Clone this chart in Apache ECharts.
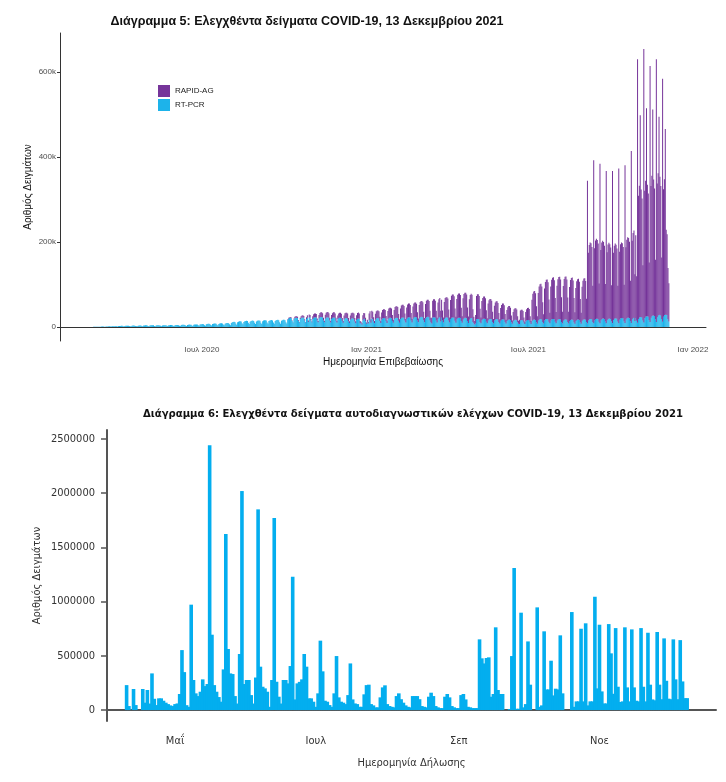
<!DOCTYPE html>
<html><head><meta charset="utf-8">
<script src="https://cdn.jsdelivr.net/npm/echarts@6/dist/echarts.min.js"></script>
<style>html,body{margin:0;padding:0;background:#fff}#c{width:726px;height:782px}</style>
</head><body><div id="c"></div>
<script>
// ===== Διάγραμμα 5 : daily samples (thousands) =====
const topAxisStart = '2020-01-25';
const topAxisEnd = '2022-01-15';
const pcrStart = '2020-03-02';
const rtPcr = [
0.3,0.3,0.4,0.5,0.5,0.4,0.3, 0.6,0.8,0.9,1,1.1,0.8,0.6, 1.2,1.4,1.3,1.5,1.6,1.1,0.9, 1.6,1.8,1.9,2,2.1,1.5,1.2,
2.2,2.5,2.6,2.8,2.7,2,1.5, 2.6,2.9,3,3.1,2.8,2.1,1.6, 2,2.8,3.2,3.3,3,2.2,1.6, 1.8,3,3.4,3.5,3.3,2.4,1.8,
3.2,3.6,3.8,3.9,3.5,2.5,1.9, 3.4,3.8,4,4.1,3.8,2.6,2, 3.5,3.9,4.2,4.1,3.7,2.7,2, 3.6,4,4.1,4.3,3.9,2.8,2.1,
3.8,4.2,4.4,4.5,4.1,3,2.2, 4,4.5,4.7,4.6,4.3,3.1,2.3, 4.5,5,5.2,5.3,4.9,3.4,2.5, 4.8,5.4,5.6,5.5,5.1,3.6,2.6,
5.2,5.8,6,6.1,5.6,3.9,2.8, 5.6,6.3,6.6,6.8,6.2,4.3,3, 6.2,7,7.4,7.6,7,4.8,3.3, 6.8,7.6,8,8.2,7.5,5.2,3.6,
7.2,8.1,8.6,8.8,8.1,5.6,3.9, 7.8,8.8,9.3,9.5,8.9,6.2,4.3, 9.5,11,11.8,12.2,11.5,8,5.5, 11,12.5,13.2,13.5,12.8,9,6.2,
12,13.5,14.2,14.6,13.8,9.8,6.8, 12.5,14,14.8,15,14.2,10,7, 13,14.5,15,15.4,14.6,10.2,7.2, 13.5,15,15.6,15.9,15,10.5,7.4,
14,15.5,16,16.4,15.5,10.8,7.6, 14.2,15.8,16.4,16.8,15.8,11,7.8, 14.5,16,16.8,17,16,11.2,8, 17,20,21,21.5,20.5,14,10,
18,21,22,22,21,14.5,10.5, 18.5,21.5,22.5,22.5,21.5,15,10.5, 19,22,12,23,22,15,11, 19,22,23,23,22,15,11,
20,23,23.5,23.5,22.5,15.5,11, 19.5,22.5,23,23,21.5,15,10.5, 19,21.5,22.5,22.5,21,14.5,10.5, 18,21,21.5,21.5,20,14,10,
17.5,20.5,21,21,19.5,13.5,9.5, 17,20,20.5,20.5,19,13,9, 16.5,19.5,20,19.5,9,8.5,6, 15.5,19,19.5,13.5,7.5,11,8,
16,19,10,20,19,13,9, 17,20,21,21,20,14,9.5, 17,20,21,21,20,14,9.5, 17.5,20.5,21.5,21.5,20.5,14,10,
18,21,22,22,21,14.5,10, 18.5,21.5,22.5,22.5,21.5,15,10.5, 19,22,23,23,22,15,10.5, 19.5,22.5,23.5,23.5,22.5,15.5,11,
20,23,24,24,23,16,11, 20,23,24,24,23,16,11, 8,22,23,23,22,15,10.5, 19.5,22.5,23.5,13,22,15,10.5,
19,22,23,23,22,15,10.5, 18.5,21.5,22.5,22.5,21.5,14.5,10, 18,21,22,22,21,14,10, 17.5,20.5,21.5,21.5,20.5,14,9.5,
17,20,21,21,12,9,6, 8,18,19,19,18,12,8.5, 16,18.5,19.5,19.5,18.5,12.5,8.5, 15.5,18,19,19,18,12,8,
15,17.5,18.5,18.5,17.5,12,8, 14.5,17,18,18,17,11.5,8, 14,16.5,17.5,17.5,16.5,11,7.5, 13.5,16,17,17,16,11,7.5,
7,15.5,16.5,16.5,15.5,10.5,7, 13,15.5,16.5,16.5,15.5,10.5,7, 14,16.5,17.5,17.5,16.5,11,7.5, 15,17.5,18.5,18.5,17.5,12,8,
15.5,18,19,19,18,12.5,8.5, 15.5,18,19,19,18,12.5,8.5, 15,17.5,18.5,18.5,17.5,12,8, 14.5,17,18,18,17,11.5,8,
14,16.5,17.5,17.5,16.5,11,7.5, 14,16.5,17.5,17.5,16.5,11,7.5, 14.5,17,18,18,17,11.5,8, 15,18,19,19,18,12,8.5,
15.5,18.5,19.5,19.5,18.5,12.5,8.5, 16,19,20,20,19,13,9, 16,19,20,20,19,13,9, 16.5,19.5,20.5,20.5,19.5,13,9,
17,20,21,21,20,13.5,9.5, 17.5,20.5,21.5,21.5,20.5,14,9.5, 18,21,22,14,21,14.5,10, 19,22.5,23.5,23.5,22.5,15.5,10.5,
20.5,24,25,25,24,16.5,11.5, 22,26,27,27,26,18,12, 23,27,28,28.5,27,18.5,12.5, 24,28,29,29,28,19,13
];
const rapidStart = '2020-10-05';
const rapidAg = [
1,1.5,1.5,2,2,1,0.5, 2,3,3,3.5,3,2,1, 3,4,4.5,5,4.5,3,1.5, 4,5.5,3,6.5,6,4,2,
6,8,9,9,8.5,5,3, 8,10,11,11,10,6,3.5, 9,11,12,12,11,7,4, 9,11,12,12,11,7,4,
9,11,12,12,11,7,4, 9.5,12,12.5,12.5,12,7.5,4, 10,12.5,13,13,12.5,8,4.5, 11,13.5,14,12,5,4,3,
12,14,13,8,3,6,4, 16,18,8,18,17,10,5, 14,17,18,18,17,10,5, 17,20,21,21,20,12,6,
20,23,24,24,23,14,7, 22,26,27,27,26,16,8, 25,29,30,30,28,17,8, 27,31,32,32,30,18,9,
29,33,34,34,32,19,9, 32,36,37,37,35,20,10, 34,39,40,40,38,22,11, 14,40,42,42,40,23,11,
38,43,45,25,42,24,12, 40,46,47,47,45,26,12, 45,52,54,54,51,29,14, 48,55,57,57,54,31,15,
50,57,59,59,56,32,15, 48,55,57,55,30,15,8, 20,55,58,58,55,31,14, 45,50,52,52,49,27,12,
40,45,47,47,44,24,11, 35,40,42,42,39,21,10, 30,35,37,37,34,19,9, 26,30,32,32,29,16,8,
22,26,27,27,25,14,7, 10,23,24,24,22,12,6, 22,26,28,29,27,15,7, 50,62,66,67,63,38,18,
65,78,82,83,78,46,22, 75,88,92,93,87,52,25, 80,93,97,98,92,56,27, 82,95,99,100,94,58,28,
82,96,100,101,95,58,28, 80,94,98,99,93,57,27, 78,91,95,96,90,55,26, 80,92,96,97,91,55,336,
160,175,180,178,170,85,384, 170,185,188,185,178,90,376, 165,180,183,180,172,88,358, 160,175,178,175,168,85,358,
158,172,176,173,165,84,364, 160,175,178,176,168,86,371, 170,185,190,188,180,95,405, 185,200,205,110,195,105,620,
290,310,475,300,280,130,644, 300,320,490,310,290,135,603, 310,330,485,320,300,140,618, 315,335,467,325,305,145,572,
300,320,437,200,190,120,90
];
const topTicks = ['2020-07-01','2021-01-01','2021-07-01','2022-01-01'];
const topTickLabels = ['Ιουλ 2020','Ιαν 2021','Ιουλ 2021','Ιαν 2022'];
const topYTicks = [0,200000,400000,600000];
const topYLabels = ['0','200k','400k','600k'];

// ===== Διάγραμμα 6 : self-tests per day (thousands) =====
const selfAxisStart = '2021-04-02';
const selfAxisEnd = '2021-12-21';
const selfStart = '2021-04-10';
const selfTests = [
230,37,0,194,46,0,0,194,68,185,60,338,104,46,108,108,86,68,55,43,
37,55,61,148,553,350,45,30,972,277,154,129,169,283,221,240,2442,695,230,169,
120,77,375,1624,563,338,332,129,60,517,2020,240,277,277,138,60,300,1851,400,215,
200,169,30,277,1771,261,123,60,277,277,246,406,1230,98,246,260,283,517,400,108,
108,77,30,154,640,357,86,77,46,30,154,498,117,77,68,55,138,430,98,61,
55,30,30,145,230,234,55,43,25,25,117,209,228,55,37,30,25,129,154,100,
68,43,30,25,129,129,129,100,37,30,25,123,160,129,37,25,18,18,123,148,
117,37,25,18,18,138,148,98,30,25,18,18,18,652,477,430,480,486,123,148,
763,185,148,148,0,0,10,498,1310,12,12,898,25,55,633,234,0,0,947,30,
43,726,190,190,455,135,197,190,689,154,0,0,0,904,30,80,80,750,80,800,
43,80,80,1045,200,787,172,61,61,793,523,150,756,215,74,80,763,209,80,744,
209,86,80,756,215,80,713,234,98,90,720,234,100,661,270,105,100,652,283,100,
645,264,110,110
];
const selfTicks = ['2021-05-01','2021-07-01','2021-09-01','2021-11-01'];
const selfTickLabels = ['Μαΐ','Ιουλ','Σεπ','Νοε'];
const selfYTicks = [0,500000,1000000,1500000,2000000,2500000];

// ===== helpers =====
const DAY = 86400000;
function toUTC(s){const p=s.split('-').map(Number);return Date.UTC(p[0],p[1]-1,p[2]);}
function fmt(t){const d=new Date(t);return d.getUTCFullYear()+'-'+String(d.getUTCMonth()+1).padStart(2,'0')+'-'+String(d.getUTCDate()).padStart(2,'0');}
function days(a,b){const r=[];for(let t=toUTC(a);t<=toUTC(b);t+=DAY)r.push(fmt(t));return r;}
function place(cats,start,vals){
  const out=cats.map(()=> '-');
  const off=Math.round((toUTC(start)-toUTC(cats[0]))/DAY);
  vals.forEach((v,i)=>{ if(off+i<out.length) out[off+i]=v*1000; });
  return out;
}
const topCats = days(topAxisStart, topAxisEnd);
const selfCats = days(selfAxisStart, selfAxisEnd);
const pcrSeries = place(topCats, pcrStart, rtPcr);
const rapidSeries = place(topCats, rapidStart, rapidAg);
const selfSeries = place(selfCats, selfStart, selfTests);

const F = '"Liberation Sans", Arial, sans-serif';
const FN = '"DejaVu Sans Condensed", "Liberation Sans", sans-serif';

const chart = echarts.init(document.getElementById('c'), null, {renderer:'canvas'});
chart.setOption({
  animation:false,
  backgroundColor:'#fff',
  textStyle:{fontFamily:F},
  title:[
    {text:'Διάγραμμα 5: Ελεγχθέντα δείγματα COVID-19, 13 Δεκεμβρίου 2021', left:302, top:10, textAlign:'center',
     textStyle:{fontFamily:F, fontSize:12.5, fontWeight:'bold', color:'#111'}},
    {text:'Διάγραμμα 6: Ελεγχθέντα δείγματα αυτοδιαγνωστικών ελέγχων COVID-19, 13 Δεκεμβρίου 2021', left:408, top:404, textAlign:'center',
     textStyle:{fontFamily:FN, fontSize:11.2, fontWeight:'bold', color:'#111'}}
  ],
  legend:{data:['RAPID-AG','RT-PCR'], orient:'vertical', left:153, top:80, itemWidth:12, itemHeight:12, itemGap:2,
    icon:'rect', textStyle:{fontFamily:F, fontSize:8, color:'#222'}},
  grid:[
    {left:60, top:33, width:646, height:308, containLabel:false, outerBoundsMode:'none'},
    {left:107, top:430, width:609, height:291, containLabel:false, outerBoundsMode:'none'}
  ],
  xAxis:[
    {gridIndex:0, type:'category', data:topCats, boundaryGap:true,
     axisLine:{lineStyle:{color:'#333', width:1}},
     axisTick:{alignWithLabel:true, interval:(i,v)=>topTicks.includes(v), length:3, lineStyle:{color:'#333'}},
     axisLabel:{interval:(i,v)=>topTicks.includes(v), formatter:v=>topTickLabels[topTicks.indexOf(v)], fontSize:8, color:'#4d4d4d', margin:5, fontFamily:F},
     splitLine:{show:false},
     name:'Ημερομηνία Επιβεβαίωσης', nameLocation:'middle', nameGap:16, nameMoveOverlap:false,
     nameTextStyle:{fontSize:10, color:'#111', fontFamily:F}},
    {gridIndex:1, type:'category', data:selfCats, boundaryGap:true,
     axisLine:{lineStyle:{color:'#555', width:2}},
     axisTick:{alignWithLabel:true, interval:(i,v)=>selfTicks.includes(v), length:6, lineStyle:{color:'#555', width:1.5}},
     axisLabel:{interval:(i,v)=>selfTicks.includes(v), formatter:v=>selfTickLabels[selfTicks.indexOf(v)], fontSize:11, color:'#333', margin:15, fontFamily:FN},
     splitLine:{show:false},
     name:'Ημερομηνία Δήλωσης', nameLocation:'middle', nameGap:37, nameMoveOverlap:false,
     nameTextStyle:{fontSize:11, color:'#333', fontFamily:FN}}
  ],
  yAxis:[
    {gridIndex:0, type:'value', min:-33000, max:692000,
     axisLine:{show:true, lineStyle:{color:'#333', width:1}},
     axisTick:{show:true, length:3, customValues:topYTicks, lineStyle:{color:'#333'}},
     axisLabel:{customValues:topYTicks, formatter:v=>topYLabels[topYTicks.indexOf(v)], fontSize:8, color:'#4d4d4d', margin:4, fontFamily:F},
     splitLine:{show:false},
     name:'Αριθμός Δειγμάτων', nameLocation:'middle', nameGap:27, nameMoveOverlap:false,
     nameTextStyle:{fontSize:10, color:'#111', fontFamily:F}},
    {gridIndex:1, type:'value', min:-101000, max:2583000,
     axisLine:{show:true, lineStyle:{color:'#555', width:2}},
     axisTick:{show:true, length:6, customValues:selfYTicks, lineStyle:{color:'#555', width:1.5}},
     axisLabel:{customValues:selfYTicks, formatter:v=>String(v), fontSize:11, color:'#333', margin:12, fontFamily:FN},
     splitLine:{show:false},
     name:'Αριθμός Δειγμάτων', nameLocation:'middle', nameGap:64, nameMoveOverlap:false,
     nameTextStyle:{fontSize:11, color:'#333', fontFamily:FN}}
  ],
  series:[
    {name:'RT-PCR', type:'bar', stack:'d5', xAxisIndex:0, yAxisIndex:0, data:pcrSeries,
     barCategoryGap:'0%', itemStyle:{color:'#1DB3EA'}},
    {name:'RAPID-AG', type:'bar', stack:'d5', xAxisIndex:0, yAxisIndex:0, data:rapidSeries,
     barCategoryGap:'0%', itemStyle:{color:'#76359A'}},
    {name:'self', type:'bar', xAxisIndex:1, yAxisIndex:1, data:selfSeries,
     barWidth:3.6, itemStyle:{color:'#03AEEF'}}
  ]
});
</script></body></html>
